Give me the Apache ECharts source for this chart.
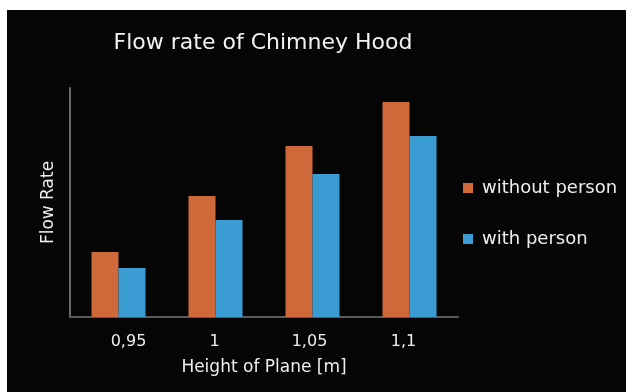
<!DOCTYPE html>
<html>
<head>
<meta charset="utf-8">
<script src="https://cdn.jsdelivr.net/npm/echarts@6/dist/echarts.min.js"></script>
<style>
html,body{margin:0;padding:0;background:#ffffff;width:626px;height:392px;overflow:hidden;}
#main{position:absolute;left:7px;top:10px;width:619px;height:382px;}
</style>
</head>
<body>
<div id="main"></div>
<script>
const categories = ['0,95', '1', '1,05', '1,1'];
const withoutPerson = [2.84, 5.28, 7.47, 9.39];
const withPerson = [2.14, 4.24, 6.24, 7.90];
const seriesNames = ['without person', 'with person'];

// label nudges (px) to mimic the original's slightly off-centre tick labels
const labelNudge = [10, -1, -3, -6];

const chart = echarts.init(document.getElementById('main'));
const font = 'DejaVu Sans, sans-serif';
chart.setOption({
  backgroundColor: '#050505',
  animation: false,
  title: {
    text: 'Flow rate of Chimney Hood',
    left: 251, top: 17, textAlign: 'center',
    textStyle: {color: '#f2f2f2', fontSize: 22, fontWeight: 'normal', fontFamily: font}
  },
  legend: {
    orient: 'vertical', left: 451, top: 164,
    itemWidth: 10, itemHeight: 10, itemGap: 33,
    icon: 'rect',
    data: seriesNames,
    textStyle: {color: '#eeeeee', fontSize: 18, fontFamily: font, padding: [0, 0, 0, 4]}
  },
  grid: {left: 63, top: 78, right: 168, bottom: 75},
  xAxis: {
    type: 'category',
    data: categories.map((c, i) => ({
      value: c,
      textStyle: {padding: labelNudge[i] >= 0 ? [0, 0, 0, 2 * labelNudge[i]] : [0, -2 * labelNudge[i], 0, 0]}
    })),
    name: 'Height of Plane [m]', nameLocation: 'middle', nameGap: 42,
    nameTextStyle: {color: '#eeeeee', fontSize: 17, fontFamily: font},
    axisLine: {lineStyle: {color: '#5a5a5a', width: 2}},
    axisTick: {show: false},
    axisLabel: {color: '#eeeeee', fontSize: 16, fontFamily: font, margin: 17}
  },
  yAxis: {
    type: 'value', min: 0, max: 10, interval: 1,
    name: 'Flow Rate', nameLocation: 'middle', nameGap: 13, nameRotate: 90,
    nameTextStyle: {color: '#eeeeee', fontSize: 17, fontFamily: font},
    axisLine: {show: true, lineStyle: {color: '#6a6a6a', width: 2}},
    axisTick: {show: false},
    axisLabel: {show: false},
    splitLine: {show: false}
  },
  series: [
    {name: seriesNames[0], type: 'bar', data: withoutPerson, barWidth: 27, barGap: '0%',
     itemStyle: {color: '#d0693a'}},
    {name: seriesNames[1], type: 'bar', data: withPerson, barWidth: 27,
     itemStyle: {color: '#3a9cd3'}}
  ]
});
</script>
</body>
</html>
